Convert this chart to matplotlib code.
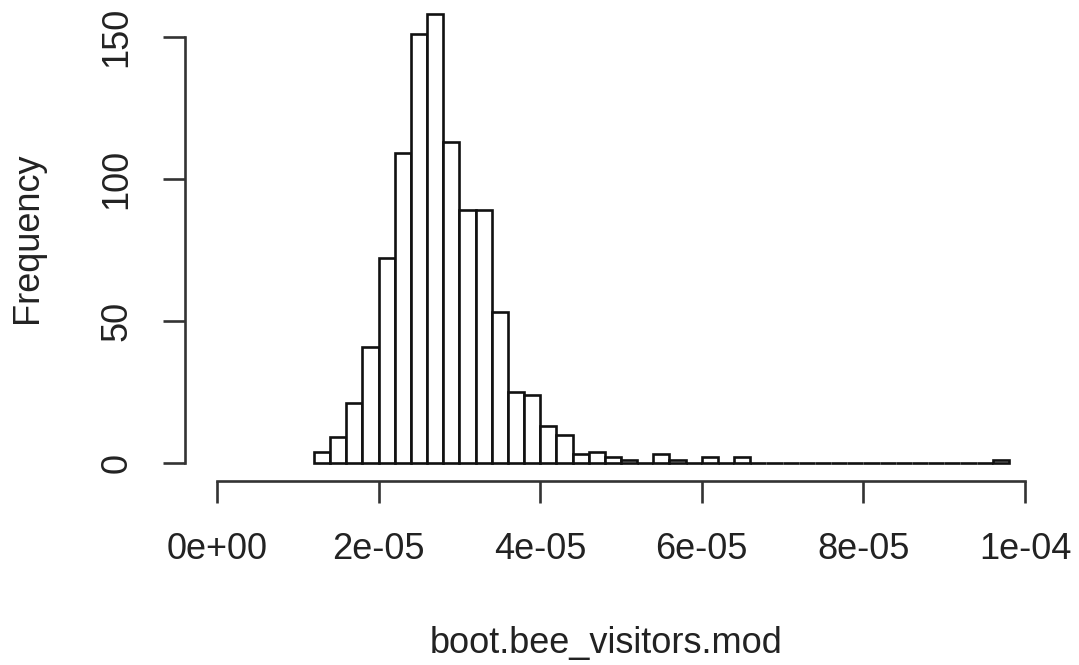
import numpy as np
import matplotlib
matplotlib.use("Agg")
import matplotlib.pyplot as plt

# Histogram of bootstrap estimates (breaks of width 2e-6 starting at 1.2e-5)
bin_start = 1.2e-5
bin_width = 2e-6
counts = [4, 9, 21, 41, 72, 109, 151, 158, 113, 89, 89, 53, 25, 24, 13, 10,
          3, 4, 2, 1, 0, 3, 1, 0, 2, 0, 2,
          0, 0, 0, 0, 0, 0, 0, 0, 0, 0, 0, 0, 0, 0, 0, 1]
x_ticks = [0, 2e-5, 4e-5, 6e-5, 8e-5, 1e-4]
x_tick_labels = ["0e+00", "2e-05", "4e-05", "6e-05", "8e-05", "1e-04"]
y_ticks = [0, 50, 100, 150]
x_label = "boot.bee_visitors.mod"
y_label = "Frequency"

plt.rcParams["font.family"] = ["Liberation Sans", "DejaVu Sans"]

W, H = 1079, 665
fig = plt.figure(figsize=(W / 100, H / 100), dpi=100)

# plot region in pixels
left_px, right_px = 184.7, 1057.3
bottom_px, top_px = 481.0, 0.0
ax = fig.add_axes([left_px / W, 1 - bottom_px / H,
                   (right_px - left_px) / W, (bottom_px - top_px) / H])

edges = bin_start + bin_width * np.arange(len(counts))
ax.bar(edges, counts, width=bin_width, align="edge",
       facecolor="white", edgecolor="#111111", linewidth=1.9)

ax.set_xlim(-4e-6, 1.04e-4)
ax.set_ylim(-6.33, 163.0)

for s in ("top", "right"):
    ax.spines[s].set_visible(False)
ax.spines["left"].set_bounds(0, 150)
ax.spines["bottom"].set_bounds(0, 1e-4)
for s in ("left", "bottom"):
    ax.spines[s].set_linewidth(1.9)
    ax.spines[s].set_color("#333333")

ax.set_xticks(x_ticks)
ax.set_xticklabels(x_tick_labels)
ax.set_yticks(y_ticks)
ax.set_yticklabels([str(v) for v in y_ticks], rotation=90, va="center")

ax.tick_params(axis="both", direction="out", length=16, width=1.9,
               color="#333333", labelsize=26, labelcolor="#222222")
ax.tick_params(axis="x", pad=21)
ax.tick_params(axis="y", pad=20)

fig.text(606 / W, 1 - 653 / H, x_label, ha="center", va="baseline",
         fontsize=26, color="#222222")
fig.text(27.5 / W, 1 - 238 / H, y_label, ha="center", va="center",
         rotation=90, fontsize=26, color="#222222")

fig.savefig("out.png", dpi=100, facecolor="white")
